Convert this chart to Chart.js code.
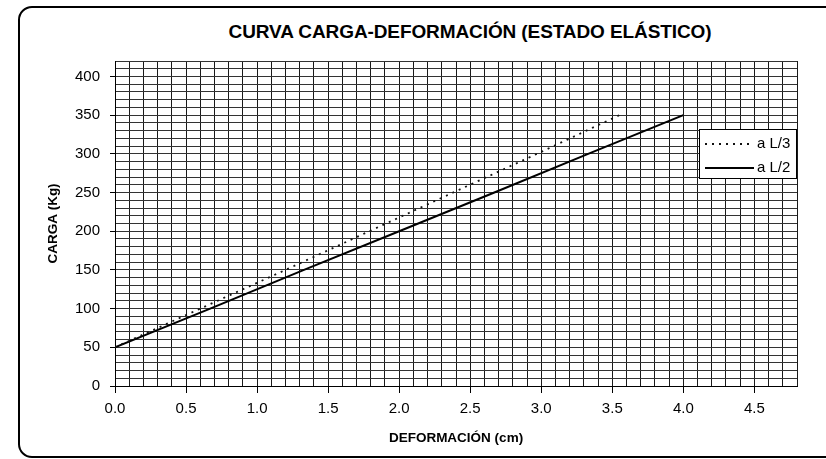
<!DOCTYPE html>
<html>
<head>
<meta charset="utf-8">
<script src="https://cdn.jsdelivr.net/npm/chart.js@4/dist/chart.umd.min.js"></script>
<style>
  html, body { margin: 0; padding: 0; background: #fff; overflow: hidden; }
  #wrap { position: relative; width: 826px; height: 459px; }
  #frame {
    position: absolute; left: 18px; top: 6px; width: 840px; height: 448px;
    border: 2px solid #000; border-radius: 14px;
  }
  #title {
    position: absolute; left: 0; top: 21px; width: 940px; text-align: center;
    font: bold 19px "Liberation Sans", Arial, sans-serif; color: #000;
    letter-spacing: -0.1px;
  }
  canvas { position: absolute; left: 0; top: 0; }
</style>
</head>
<body>
<div id="wrap">
  <div id="frame"></div>
  <div id="title">CURVA CARGA-DEFORMACIÓN (ESTADO ELÁSTICO)</div>
  <canvas id="chart" width="826" height="459"></canvas>
</div>
<script>
// cargas (Kg) y deformaciones (cm)
const cargas = [50, 100, 150, 200, 250, 300, 350];
const deformL3 = [0, 0.6, 1.2, 1.79, 2.38, 2.97, 3.55];
const deformL2 = [0, 0.67, 1.33, 2.0, 2.67, 3.33, 4.0];
const seriesNames = ['a L/3', 'a L/2'];

const FONT = '"Liberation Sans", Arial, sans-serif';
const isMajor = (v, step) => Math.abs(v / step - Math.round(v / step)) < 1e-6;

const legendBox = {
  id: 'legendBox',
  afterDraw(chart) {
    const { ctx, chartArea } = chart;
    const x1 = chartArea.right - 98, x2 = chartArea.right;
    const y1 = chartArea.top + 68, y2 = y1 + 50;
    ctx.save();
    ctx.fillStyle = '#fff';
    ctx.fillRect(x1, y1, x2 - x1, y2 - y1);
    ctx.strokeStyle = '#000';
    ctx.lineWidth = 1;
    ctx.strokeRect(x1 + 0.5, y1 + 0.5, x2 - x1 - 1, y2 - y1 - 1);
    chart.data.datasets.forEach((ds, i) => {
      const y = y1 + 15 + i * 24;
      ctx.beginPath();
      ctx.setLineDash(ds.borderDash || []);
      ctx.lineWidth = ds.borderWidth;
      ctx.strokeStyle = ds.borderColor;
      ctx.moveTo(x1 + 6, y);
      ctx.lineTo(x1 + 55, y);
      ctx.stroke();
      ctx.setLineDash([]);
      ctx.fillStyle = '#000';
      ctx.font = '15px ' + FONT;
      ctx.textBaseline = 'middle';
      ctx.fillText(ds.label, x1 + 58, y);
    });
    ctx.restore();
  }
};

new Chart(document.getElementById('chart'), {
  type: 'line',
  data: {
    datasets: [
      {
        label: seriesNames[0],
        data: deformL3.map((d, i) => ({ x: d, y: cargas[i] })),
        borderColor: '#111',
        borderWidth: 1.8,
        borderDash: [2, 5],
        pointRadius: 0,
        fill: false
      },
      {
        label: seriesNames[1],
        data: deformL2.map((d, i) => ({ x: d, y: cargas[i] })),
        borderColor: '#000',
        borderWidth: 2,
        pointRadius: 0,
        fill: false
      }
    ]
  },
  options: {
    responsive: false,
    animation: false,
    devicePixelRatio: 1,
    layout: { padding: { left: 30, right: 29, top: 61, bottom: 13 } },
    plugins: { legend: { display: false }, tooltip: { enabled: false } },
    scales: {
      x: {
        type: 'linear',
        min: 0,
        max: 4.8,
        afterFit: (s) => { s.height = 60; },
        border: { color: '#000', width: 1 },
        grid: {
          color: '#1a1a1a',
          lineWidth: 1,
          tickLength: 7,
          tickColor: (c) => isMajor(c.tick.value, 0.5) ? '#000' : 'rgba(0,0,0,0)'
        },
        ticks: {
          stepSize: 0.1,
          autoSkip: false,
          maxRotation: 0,
          padding: 7,
          color: '#000',
          font: { family: FONT, size: 15 },
          callback: (v) => isMajor(v, 0.5) ? v.toFixed(1) : ''
        },
        title: {
          display: true,
          text: 'DEFORMACIÓN (cm)',
          color: '#000',
          font: { family: FONT, size: 13.5, weight: 'bold' },
          padding: { top: 0, bottom: 0 }
        }
      },
      y: {
        min: 0,
        max: 420,
        afterFit: (s) => { s.width = 85; },
        border: { color: '#000', width: 1 },
        grid: {
          color: '#333',
          lineWidth: 1,
          tickLength: 5,
          tickColor: (c) => isMajor(c.tick.value, 50) ? '#000' : 'rgba(0,0,0,0)'
        },
        ticks: {
          stepSize: 10,
          autoSkip: false,
          padding: 10,
          color: '#000',
          font: { family: FONT, size: 15 },
          callback: (v) => isMajor(v, 50) ? String(v) : ''
        },
        title: {
          display: true,
          text: 'CARGA (Kg)',
          color: '#000',
          font: { family: FONT, size: 13.5, weight: 'bold' },
          padding: { top: 15, bottom: 0 }
        }
      }
    }
  },
  plugins: [legendBox]
});
</script>
</body>
</html>
